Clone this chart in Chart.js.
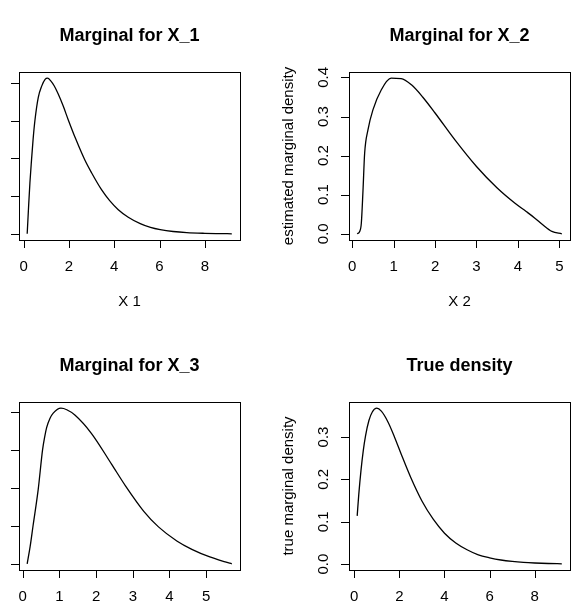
<!DOCTYPE html>
<html>
<head>
<meta charset="utf-8">
<script src="https://cdn.jsdelivr.net/npm/chart.js@4.4.0/dist/chart.umd.min.js"></script>
<style>
html, body { margin: 0; padding: 0; background: #fff; overflow: hidden; width: 578px; height: 611px; position: relative; }
canvas { position: absolute; }
</style>
</head>
<body>
<canvas id="c1" width="350" height="306" style="left:-61px;top:0"></canvas>
<canvas id="c2" width="350" height="306" style="left:269px;top:0"></canvas>
<canvas id="c3" width="350" height="306" style="left:-61px;top:330px"></canvas>
<canvas id="c4" width="350" height="306" style="left:269px;top:330px"></canvas>
<script>
// estimated marginal for X_1
const x1Grid = [0.16, 0.22, 0.28, 0.35, 0.42, 0.5, 0.65, 0.8, 0.95, 1.06, 1.2, 1.35, 1.53, 1.75, 1.97, 2.3, 2.71, 3.0, 3.44, 3.8, 4.18, 4.62, 5.15, 5.6, 6.03, 6.6, 7.2, 8.0, 8.6, 9.19];
const x1Density = [0.0, 0.07, 0.135, 0.195, 0.25, 0.30, 0.362, 0.392, 0.41, 0.413, 0.406, 0.393, 0.371, 0.339, 0.303, 0.252, 0.195, 0.162, 0.117, 0.088, 0.064, 0.044, 0.027, 0.017, 0.011, 0.006, 0.003, 0.0012, 0.0005, 0.0];
// estimated marginal for X_2
const x2Grid = [0.12, 0.18, 0.22, 0.26, 0.30, 0.38, 0.5, 0.7, 0.94, 1.18, 1.43, 1.7, 2.0, 2.48, 3.0, 3.5, 3.93, 4.2, 4.41, 4.6, 4.82, 5.06];
const x2Density = [0.0, 0.006, 0.027, 0.11, 0.206, 0.266, 0.317, 0.368, 0.398, 0.397, 0.381, 0.35, 0.309, 0.24, 0.172, 0.117, 0.078, 0.057, 0.04, 0.023, 0.006, 0.0];
// estimated marginal for X_3
const x3Grid = [0.12, 0.2, 0.28, 0.42, 0.54, 0.6, 0.65, 0.74, 0.83, 1.04, 1.2, 1.42, 1.87, 2.42, 2.8, 3.3, 3.7, 4.2, 4.61, 5.1, 5.52, 5.70];
const x3Density = [0.0, 0.045, 0.1, 0.195, 0.30, 0.335, 0.358, 0.382, 0.396, 0.409, 0.405, 0.391, 0.343, 0.262, 0.205, 0.138, 0.097, 0.06, 0.038, 0.018, 0.005, 0.0];
// true marginal density
const trueGrid = [0.13, 0.2, 0.3, 0.4, 0.5, 0.65, 0.8, 1.0, 1.2, 1.5, 1.8, 2.1, 2.5, 3.0, 3.5, 4.0, 4.5, 5.0, 5.5, 6.0, 6.5, 7.0, 7.5, 8.0, 8.6, 9.2];
const trueDensity = [0.114, 0.164, 0.222, 0.268, 0.303, 0.339, 0.359, 0.368, 0.361, 0.335, 0.298, 0.257, 0.205, 0.149, 0.106, 0.073, 0.05, 0.034, 0.022, 0.015, 0.0098, 0.0064, 0.0041, 0.0027, 0.0016, 0.0009];

const x1Ticks = [0, 2, 4, 6, 8];
const x2Ticks = [0, 1, 2, 3, 4, 5];
const x3Ticks = [0, 1, 2, 3, 4, 5];
const trueTicks = [0, 2, 4, 6, 8];
const yTicksEst = [0, 0.1, 0.2, 0.3, 0.4];
const yTicksTrue = [0, 0.1, 0.2, 0.3];

const FONT = '"Liberation Sans", Arial, sans-serif';

// R style: extend data range by 4% each side
function rRange(vals) {
    const lo = Math.min(...vals), hi = Math.max(...vals);
    const d = (hi - lo) * 0.04;
    return [lo - d, hi + d];
}

// draws box, tick marks, labels and titles like base R graphics
const rAxes = {
    id: 'rAxes',
    afterDraw(chart, args, o) {
        const ctx = chart.ctx;
        const a = chart.chartArea;
        const xs = chart.scales.x, ys = chart.scales.y;
        ctx.save();
        ctx.strokeStyle = '#000';
        ctx.fillStyle = '#000';
        ctx.lineWidth = 1;
        ctx.strokeRect(a.left + 0.5, a.top + 0.5, a.right - a.left, a.bottom - a.top);

        ctx.font = '15px ' + FONT;
        ctx.textAlign = 'center';
        ctx.textBaseline = 'middle';
        ctx.beginPath();
        o.xTicks.forEach(v => {
            const px = Math.round(xs.getPixelForValue(v)) + 0.5;
            ctx.moveTo(px, a.bottom);
            ctx.lineTo(px, a.bottom + 8);
        });
        o.yTicks.forEach(v => {
            const py = Math.round(ys.getPixelForValue(v)) + 0.5;
            ctx.moveTo(a.left - 8, py);
            ctx.lineTo(a.left, py);
        });
        ctx.stroke();

        o.xTicks.forEach(v => {
            ctx.fillText(String(v), xs.getPixelForValue(v), a.bottom + 27);
        });
        if (o.yLabels) {
            o.yTicks.forEach(v => {
                const py = ys.getPixelForValue(v);
                ctx.save();
                ctx.translate(a.left - 25, py);
                ctx.rotate(-Math.PI / 2);
                ctx.fillText(v.toFixed(1), 0, 0);
                ctx.restore();
            });
        }
        if (o.xTitle) ctx.fillText(o.xTitle, (a.left + a.right) / 2, a.bottom + 62);
        if (o.yTitle) {
            ctx.save();
            ctx.translate(a.left - 60, (a.top + a.bottom) / 2);
            ctx.rotate(-Math.PI / 2);
            ctx.fillText(o.yTitle, 0, 0);
            ctx.restore();
        }
        ctx.font = 'bold 18px ' + FONT;
        ctx.fillText(o.title, (a.left + a.right) / 2, a.top - 36);
        ctx.restore();
    }
};

function makePanel(id, xs, ys, opts) {
    const xr = rRange(xs), yr = rRange(ys);
    return new Chart(document.getElementById(id), {
        type: 'line',
        data: {
            datasets: [{
                data: xs.map((x, i) => ({ x: x, y: ys[i] })),
                borderColor: '#000',
                borderWidth: 1.3,
                pointRadius: 0,
                fill: false,
                cubicInterpolationMode: 'monotone'
            }]
        },
        options: {
            responsive: false,
            animation: false,
            events: [],
            layout: { padding: { left: 80, right: 49, top: 72, bottom: 66 } },
            scales: {
                x: { type: 'linear', display: false, min: xr[0], max: xr[1] },
                y: { type: 'linear', display: false, min: yr[0], max: yr[1] }
            },
            plugins: {
                legend: { display: false },
                tooltip: { enabled: false },
                rAxes: opts
            }
        },
        plugins: [rAxes]
    });
}

makePanel('c1', x1Grid, x1Density, { title: 'Marginal for X_1', xTicks: x1Ticks, yTicks: yTicksEst, yLabels: false, xTitle: 'X 1' });
makePanel('c2', x2Grid, x2Density, { title: 'Marginal for X_2', xTicks: x2Ticks, yTicks: yTicksEst, yLabels: true, xTitle: 'X 2', yTitle: 'estimated marginal density' });
makePanel('c3', x3Grid, x3Density, { title: 'Marginal for X_3', xTicks: x3Ticks, yTicks: yTicksEst, yLabels: false });
makePanel('c4', trueGrid, trueDensity, { title: 'True density', xTicks: trueTicks, yTicks: yTicksTrue, yLabels: true, yTitle: 'true marginal density' });
</script>
</body>
</html>
